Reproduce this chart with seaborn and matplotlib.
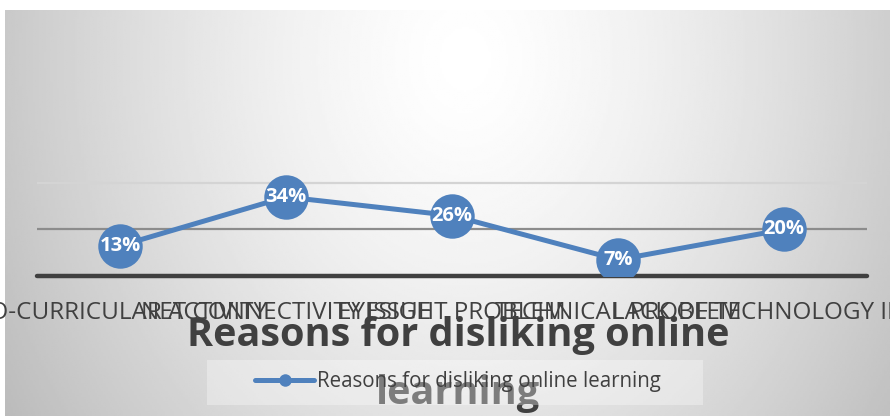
import numpy as np
import pandas as pd
import matplotlib
matplotlib.use("Agg")
import matplotlib.pyplot as plt
import seaborn as sns
from matplotlib.patches import Rectangle
from matplotlib.lines import Line2D

categories = ["CO-CURRICULAR ACTIVITY", "NET CONNECTIVITY ISSUE", "EYESIGHT PROBLEM",
              "TECHNICAL PROBLEM", "LACK OF TECHNOLOGY IN USE"]
values = [13, 34, 26, 7, 20]
value_labels = ["13%", "34%", "26%", "7%", "20%"]
series_name = "Reasons for disliking online learning"
title_lines = ["Reasons for disliking online", "learning"]

sns.set_theme(style="white")
plt.rcParams["font.family"] = ["Open Sans", "DejaVu Sans"]

W, H = 890, 416
fig = plt.figure(figsize=(W / 100, H / 100), dpi=100)
fig.patch.set_facecolor("white")

# background gradient panel
bg = fig.add_axes([5 / W, 0, 885 / W, 406 / H])
yy, xx = np.mgrid[0:1:200j, 0:1:400j]
dx = (xx - 0.52) / 0.5
dy = (yy - 0.12) / 0.88 * 0.65
r = np.sqrt(dx ** 2 + dy ** 2)
grad = 1 - 0.2 * np.clip(r, 0, 1.3) ** 1.4
bg.imshow(grad, cmap="gray", vmin=0, vmax=1, aspect="auto", extent=[0, 1, 1, 0])
bg.set_axis_off()

# main axes
y0px, per = 276, 2.325
ax = fig.add_axes([37 / W, (H - y0px) / H, 830 / W, 55 * per / H])
ax.patch.set_alpha(0)
df = pd.DataFrame({"category": categories, "value": values})
sns.lineplot(data=df, x="category", y="value", ax=ax, sort=False, color="#4F81BD",
             linewidth=3.6, marker="o", markersize=32, markeredgewidth=0, zorder=5,
             label=series_name, legend=False)
ax.set_xlim(-0.5, 4.5)
ax.set_ylim(0, 55)
ax.axhline(40, color="#d4d4d4", lw=1.6, zorder=1)
ax.axhline(20, color="#8c8c8c", lw=1.6, zorder=1)
ax.axhline(0, color="#404040", lw=3.2, zorder=2, clip_on=False)
for i, (v, t) in enumerate(zip(values, value_labels)):
    ax.text(i, v, t, color="white", fontsize=14.5, fontweight="bold", ha="center",
            va="center", zorder=6)
for s in ax.spines.values():
    s.set_visible(False)
ax.set_yticks([])
ax.set_xlabel("")
ax.set_ylabel("")
ax.set_xticks(range(len(categories)))
ax.set_xticklabels(categories, fontsize=17.5, color="#404040")
ax.tick_params(axis="x", length=0, pad=18)

# title (two lines)
fig.text(458 / W, 1 - 346 / H, title_lines[0], ha="center", va="baseline", fontsize=28.5,
         fontweight="bold", color="#404040", zorder=3)
fig.text(458 / W, 1 - 404 / H, title_lines[1], ha="center", va="baseline", fontsize=28.5,
         fontweight="bold", color="#404040", zorder=3)

# legend box
fig.patches.append(Rectangle((207 / W, 1 - 405 / H), 496 / W, 45 / H,
                             transform=fig.transFigure, facecolor="white", alpha=0.32,
                             edgecolor="none", zorder=4))
handle = Line2D([], [], color="#4F81BD", lw=3.6, marker="o", markersize=9,
                markeredgewidth=0)
leg = fig.legend([handle], [series_name], loc="center",
                 bbox_to_anchor=(458 / W, 1 - 382 / H), frameon=False, fontsize=14.8,
                 handlelength=2.9, handletextpad=0.15, labelcolor="#404040")
leg.set_zorder(6)

fig.savefig("out.png", dpi=100)
